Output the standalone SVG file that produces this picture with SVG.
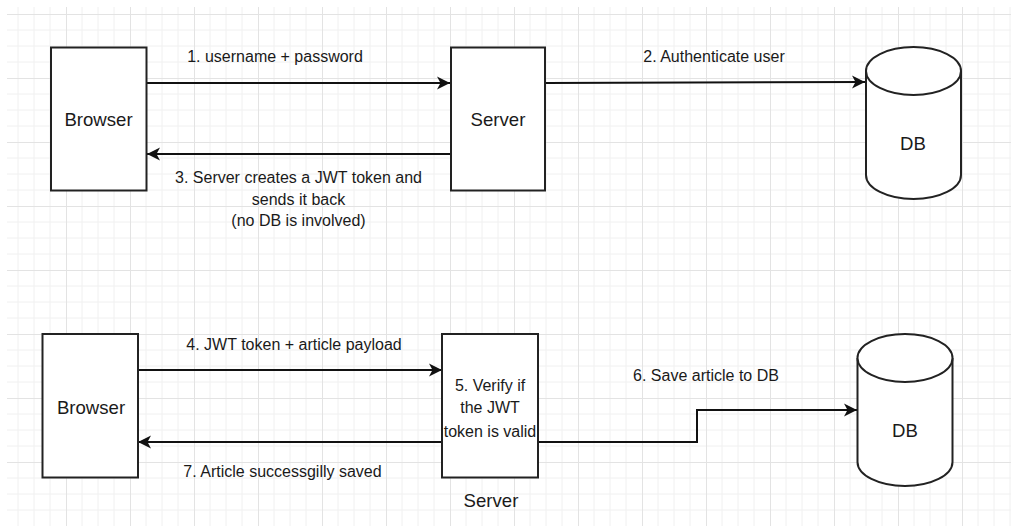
<svg xmlns="http://www.w3.org/2000/svg" width="1011" height="526" viewBox="0 0 1011 526">
  <defs>
    <pattern id="grid" patternUnits="userSpaceOnUse" x="2" y="14" width="64" height="64">
      <path d="M16,0V64M32,0V64M48,0V64M0,16H64M0,32H64M0,48H64" stroke="#f0f0f0" stroke-width="1" fill="none"/>
      <path d="M0.5,0V64M0,0.5H64" stroke="#e3e3e3" stroke-width="1" fill="none"/>
    </pattern>
    <marker id="arrow" markerUnits="userSpaceOnUse" markerWidth="14" markerHeight="14" viewBox="0 0 14 14" refX="13" refY="7" orient="auto">
      <path d="M0,0.5 L13,7 L0,13.5 L3.5,7 Z" fill="#111"/>
    </marker>
  </defs>
  <style>
    .box { fill: #fff; stroke: #222; stroke-width: 2; }
    .conn { fill: none; stroke: #111; stroke-width: 2; }
    .lbl { font-family: "Liberation Sans", Arial, sans-serif; font-size: 16px; fill: #1a1a1a; text-anchor: middle; }
    .node { font-family: "Liberation Sans", Arial, sans-serif; font-size: 18.6px; fill: #1a1a1a; text-anchor: middle; }
  </style>
  <rect width="1011" height="526" fill="#fff"/>
  <rect x="7" y="7" width="1004" height="519" fill="url(#grid)"/>

  <g id="connectors">
    <path class="conn" d="M147,83 H450" marker-end="url(#arrow)"/>
    <path class="conn" d="M546,83 L865,82" marker-end="url(#arrow)"/>
    <path class="conn" d="M451,154 H147" marker-end="url(#arrow)"/>
    <path class="conn" d="M138,370 H442" marker-end="url(#arrow)"/>
    <path class="conn" d="M538,442 H697 V410 H857" marker-end="url(#arrow)"/>
    <path class="conn" d="M442,442 H138" marker-end="url(#arrow)"/>
    <text class="lbl" x="275" y="62">1. username + password</text>
    <text class="lbl" x="714" y="62">2. Authenticate user</text>
    <text class="lbl" x="298.5" y="183">3. Server creates a JWT token and</text>
    <text class="lbl" x="298.5" y="204.5">sends it back</text>
    <text class="lbl" x="298.5" y="226">(no DB is involved)</text>
    <text class="lbl" x="294" y="350">4. JWT token + article payload</text>
    <text class="lbl" x="706" y="381">6. Save article to DB</text>
    <text class="lbl" x="282.5" y="476.5">7. Article successgilly saved</text>
  </g>

  <g id="browser1">
    <rect class="box" x="51" y="47.5" width="95.5" height="143"/>
    <text class="node" x="98.5" y="126">Browser</text>
  </g>
  <g id="server1">
    <rect class="box" x="451" y="47.5" width="94" height="143"/>
    <text class="node" x="498" y="126">Server</text>
  </g>
  <g id="db1">
    <path class="box" d="M866,71 V175 A47.5,24 0 0 0 961,175 V71"/>
    <ellipse class="box" cx="913.5" cy="71" rx="47.5" ry="24"/>
    <text class="node" x="913" y="150">DB</text>
  </g>

  <g id="browser2">
    <rect class="box" x="42.5" y="334" width="95.5" height="143.5"/>
    <text class="node" x="91" y="413.5">Browser</text>
  </g>
  <g id="server2">
    <rect class="box" x="442" y="334" width="96" height="143.5"/>
    <text class="lbl" x="490" y="390.5">5. Verify if</text>
    <text class="lbl" x="490" y="413">the JWT</text>
    <text class="lbl" x="490" y="436.5">token is valid</text>
    <text class="node" x="491" y="507">Server</text>
  </g>
  <g id="db2">
    <path class="box" d="M857.5,358 V462 A47.5,24 0 0 0 952.5,462 V358"/>
    <ellipse class="box" cx="905" cy="358" rx="47.5" ry="24"/>
    <text class="node" x="905" y="437">DB</text>
  </g>
</svg>
